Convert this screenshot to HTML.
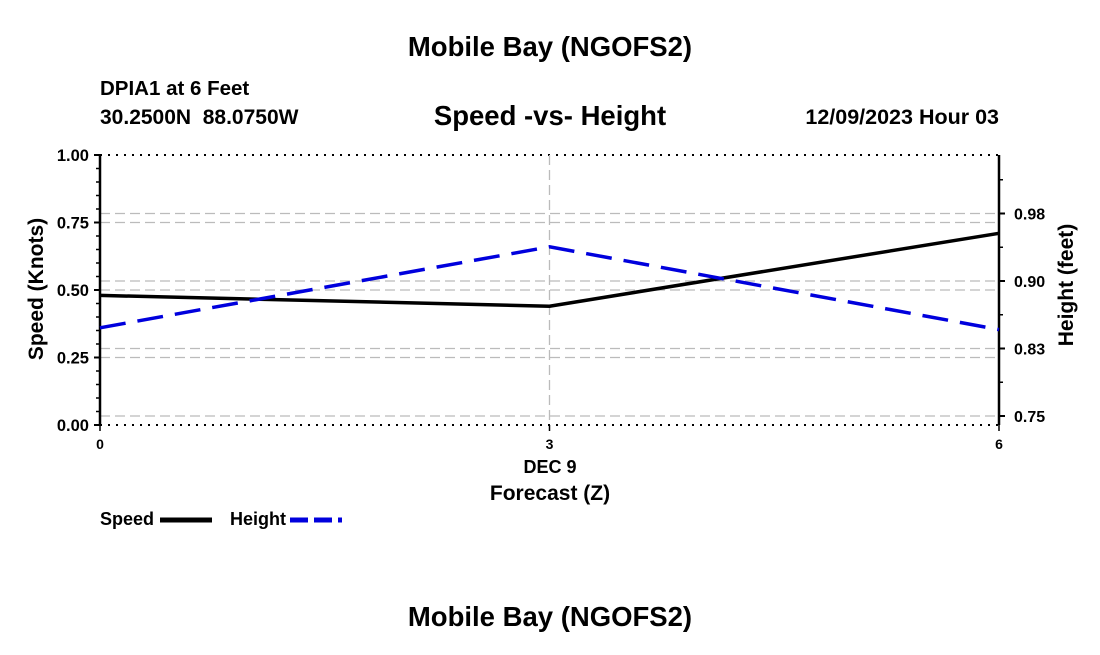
<!DOCTYPE html>
<html><head><meta charset="utf-8"><style>
body{margin:0;background:#fff;}
svg text{font-family:"Liberation Sans",Arial,sans-serif;font-weight:bold;fill:#000;}
</style></head><body>
<svg width="1100" height="650" viewBox="0 0 1100 650">
<text x="550" y="56" font-size="27.5" text-anchor="middle">Mobile Bay (NGOFS2)</text>
<text x="100" y="95" font-size="20.5">DPIA1 at 6 Feet</text>
<text x="100" y="124" font-size="21">30.2500N&#160;&#160;88.0750W</text>
<text x="550" y="125" font-size="27.5" text-anchor="middle">Speed -vs- Height</text>
<text x="999" y="124" font-size="21.5" text-anchor="end">12/09/2023 Hour 03</text>
<g id="grid"></g>
<g id="axes"></g>
<g id="series"></g>
<text x="550" y="473" font-size="18" text-anchor="middle">DEC 9</text>
<text x="550" y="500" font-size="21" text-anchor="middle">Forecast (Z)</text>
<text transform="translate(43,289) rotate(-90)" font-size="21" text-anchor="middle">Speed (Knots)</text>
<text transform="translate(1073,285) rotate(-90)" font-size="21" text-anchor="middle">Height (feet)</text>
<g>
<text x="100" y="525" font-size="18">Speed</text>
<line x1="160" y1="520" x2="212" y2="520" stroke="#000" stroke-width="5"/></g>
<g>
<text x="230" y="525" font-size="18">Height</text>
<line x1="290" y1="520" x2="342" y2="520" stroke="#0000dd" stroke-width="5" stroke-dasharray="18,6"/></g>
<text x="550" y="626" font-size="27.5" text-anchor="middle">Mobile Bay (NGOFS2)</text>
</svg>
<script>
const hours=[0,3,6];
const speed=[0.48,0.44,0.71];
const height=[0.848,0.938,0.846];
const leftTicks=[0,0.25,0.5,0.75,1.0];
const leftTickLabels=["0.00","0.25","0.50","0.75","1.00"];
const rightTicks=[0.75,0.825,0.9,0.975];
const rightTickLabels=["0.75","0.83","0.90","0.98"];
const xTicks=[0,3,6];
const NS="http://www.w3.org/2000/svg";
const X0=100,X1=999,Y0=425,Y1=155;
const x=h=>X0+(h-0)/6*(X1-X0);
const yL=v=>Y0-v*(Y0-Y1);
const yR=v=>416-(v-0.75)/0.075*67.5;
function mk(t,a,p){const e=document.createElementNS(NS,t);for(const k in a)e.setAttribute(k,a[k]);p.appendChild(e);return e;}
const grid=document.getElementById('grid'),axes=document.getElementById('axes'),ser=document.getElementById('series');
leftTicks.forEach((v,i)=>{
 const dotted=(v===0||v===1);
 const l=mk('line',{x1:X0,x2:X1,y1:yL(v),y2:yL(v),stroke:dotted?'#000':'#bbb','stroke-width':dotted?2:1.3,'stroke-dasharray':dotted?'2,6':'10,5'},grid);
 
 
 mk('line',{x1:X0-6,x2:X0,y1:yL(v),y2:yL(v),stroke:'#000','stroke-width':2},axes);
 const t=mk('text',{x:X0-11,y:yL(v)+6,'font-size':16.5,'text-anchor':'end'},axes);t.textContent=leftTickLabels[i];
 
 
});
for(let v=0.05;v<1;v+=0.05){mk('line',{x1:X0-4,x2:X0,y1:yL(v),y2:yL(v),stroke:'#000','stroke-width':1.5},axes);}
rightTicks.forEach((v,i)=>{
 const l=mk('line',{x1:X0,x2:X1,y1:yR(v),y2:yR(v),stroke:'#bbb','stroke-width':1.3,'stroke-dasharray':'10,5'},grid);
 
 
 mk('line',{x1:X1,x2:X1+6,y1:yR(v),y2:yR(v),stroke:'#000','stroke-width':2},axes);
 const t=mk('text',{x:X1+15,y:yR(v)+6,'font-size':16,},axes);t.textContent=rightTickLabels[i];
 
 
});
for(let v=0.75+0.0375;v<1.04;v+=0.075){mk('line',{x1:X1,x2:X1+4,y1:yR(v),y2:yR(v),stroke:'#000','stroke-width':1.5},axes);}
mk('line',{x1:x(3),x2:x(3),y1:Y1,y2:Y0,stroke:'#bbb','stroke-width':1.3,'stroke-dasharray':'10,5'},grid);
mk('line',{x1:X0,x2:X0,y1:Y1,y2:Y0,stroke:'#000','stroke-width':2.5},axes);
mk('line',{x1:X1,x2:X1,y1:Y1,y2:Y0,stroke:'#000','stroke-width':2.5},axes);
xTicks.forEach(h=>{
 mk('line',{x1:x(h),x2:x(h),y1:Y0,y2:Y0+6,stroke:'#000','stroke-width':1.5},axes);
 const t=mk('text',{x:x(h),y:Y0+24,'font-size':14,'text-anchor':'middle'},axes);t.textContent=h;
 
 
});
const sp=mk('polyline',{points:hours.map((h,i)=>x(h)+','+yL(speed[i])).join(' '),fill:'none',stroke:'#000','stroke-width':3.5},ser);


const ht=mk('polyline',{points:hours.map((h,i)=>x(h)+','+yR(height[i])).join(' '),fill:'none',stroke:'#0000dd','stroke-width':3.5,'stroke-dasharray':'26,12'},ser);


</script>
</body></html>
